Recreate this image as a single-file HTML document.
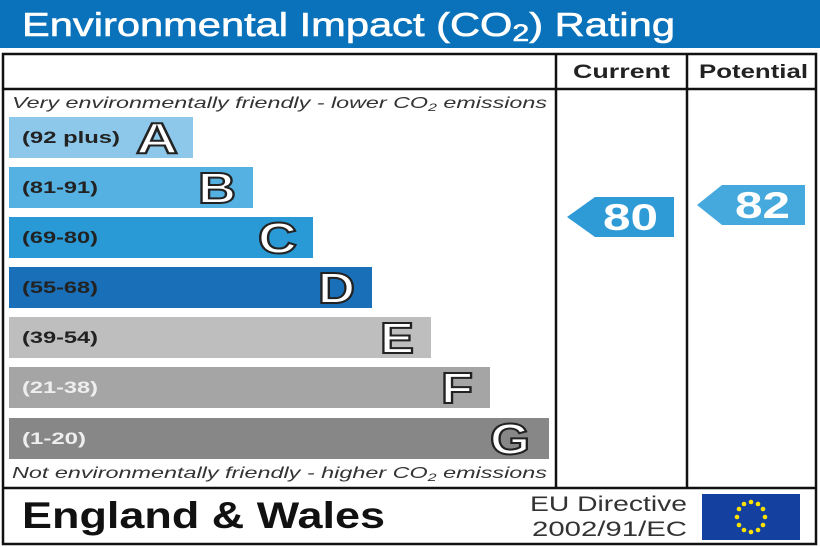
<!DOCTYPE html>
<html><head><meta charset="utf-8"><style>
html,body{margin:0;padding:0;background:#fff;}
svg{display:block;}
text{font-family:"Liberation Sans",Arial,sans-serif;}
</style></head><body>
<svg width="820" height="547" viewBox="0 0 820 547" xmlns="http://www.w3.org/2000/svg">
<rect x="0" y="0" width="820" height="48" fill="#0a72ba"/>
<text x="22" y="36" font-size="33" fill="#fff" stroke="#fff" stroke-width="0.6" textLength="653" lengthAdjust="spacingAndGlyphs">Environmental Impact (CO<tspan font-size="24" dy="5">2</tspan><tspan dy="-5">) Rating</tspan></text>
<rect x="3" y="54" width="813" height="490" fill="none" stroke="#111" stroke-width="2.5"/>
<line x1="3" y1="89" x2="816" y2="89" stroke="#111" stroke-width="2.5"/>
<line x1="556" y1="54" x2="556" y2="488" stroke="#111" stroke-width="2.5"/>
<line x1="687" y1="54" x2="687" y2="488" stroke="#111" stroke-width="2.5"/>
<line x1="3" y1="488" x2="816" y2="488" stroke="#111" stroke-width="2.5"/>
<text x="573" y="78" font-size="19" font-weight="bold" fill="#222" textLength="97" lengthAdjust="spacingAndGlyphs">Current</text>
<text x="699" y="78" font-size="19" font-weight="bold" fill="#222" textLength="109" lengthAdjust="spacingAndGlyphs">Potential</text>
<text x="12" y="108" font-size="16" font-style="italic" fill="#333" textLength="535" lengthAdjust="spacingAndGlyphs">Very environmentally friendly - lower CO<tspan font-size="11" dy="3">2</tspan><tspan dy="-3"> emissions</tspan></text>
<text x="12" y="478" font-size="16" font-style="italic" fill="#333" textLength="535" lengthAdjust="spacingAndGlyphs">Not environmentally friendly - higher CO<tspan font-size="11" dy="3">2</tspan><tspan dy="-3"> emissions</tspan></text>
<g font-weight="bold">
<rect x="9" y="117" width="184" height="41" fill="#8dc8ea"/>
<text x="22" y="143" font-size="17" fill="#222" textLength="98" lengthAdjust="spacingAndGlyphs">(92 plus)</text>
<text x="136" y="153" font-size="44" fill="#fff" stroke="#222" stroke-width="2" textLength="42" lengthAdjust="spacingAndGlyphs">A</text>
<rect x="9" y="167" width="244" height="41" fill="#55b1e2"/>
<text x="22" y="193" font-size="17" fill="#222" textLength="76" lengthAdjust="spacingAndGlyphs">(81-91)</text>
<text x="198" y="203" font-size="44" fill="#fff" stroke="#222" stroke-width="2" textLength="38" lengthAdjust="spacingAndGlyphs">B</text>
<rect x="9" y="217" width="304" height="41" fill="#2a9ad7"/>
<text x="22" y="243" font-size="17" fill="#222" textLength="76" lengthAdjust="spacingAndGlyphs">(69-80)</text>
<text x="258" y="253" font-size="44" fill="#fff" stroke="#222" stroke-width="2" textLength="39" lengthAdjust="spacingAndGlyphs">C</text>
<rect x="9" y="267" width="363" height="41" fill="#1a70b8"/>
<text x="22" y="293" font-size="17" fill="#222" textLength="76" lengthAdjust="spacingAndGlyphs">(55-68)</text>
<text x="318" y="303" font-size="44" fill="#fff" stroke="#222" stroke-width="2" textLength="37" lengthAdjust="spacingAndGlyphs">D</text>
<rect x="9" y="317" width="422" height="41" fill="#bebebe"/>
<text x="22" y="343" font-size="17" fill="#222" textLength="76" lengthAdjust="spacingAndGlyphs">(39-54)</text>
<text x="380" y="353" font-size="44" fill="#fff" stroke="#222" stroke-width="2" textLength="34" lengthAdjust="spacingAndGlyphs">E</text>
<rect x="9" y="367" width="481" height="41" fill="#a5a5a5"/>
<text x="22" y="393" font-size="17" fill="#eee" textLength="76" lengthAdjust="spacingAndGlyphs">(21-38)</text>
<text x="441" y="403" font-size="44" fill="#fff" stroke="#222" stroke-width="2" textLength="32" lengthAdjust="spacingAndGlyphs">F</text>
<rect x="9" y="418" width="540" height="41" fill="#878787"/>
<text x="22" y="444" font-size="17" fill="#eee" textLength="64" lengthAdjust="spacingAndGlyphs">(1-20)</text>
<text x="490" y="454" font-size="44" fill="#fff" stroke="#222" stroke-width="2" textLength="40" lengthAdjust="spacingAndGlyphs">G</text>
</g>
<polygon points="567,217 595,197 674,197 674,237 595,237" fill="#2e9ad6"/>
<text x="603" y="230" font-size="37" font-weight="bold" fill="#fff" textLength="55" lengthAdjust="spacingAndGlyphs">80</text>
<polygon points="697,205 722,185 805,185 805,225 722,225" fill="#45a9de"/>
<text x="735" y="218" font-size="37" font-weight="bold" fill="#fff" textLength="55" lengthAdjust="spacingAndGlyphs">82</text>
<text x="22" y="528" font-size="37" font-weight="bold" fill="#111" textLength="363" lengthAdjust="spacingAndGlyphs">England &amp; Wales</text>
<text x="530" y="511" font-size="21" fill="#333" textLength="157" lengthAdjust="spacingAndGlyphs">EU Directive</text>
<text x="532" y="536" font-size="21" fill="#333" textLength="155" lengthAdjust="spacingAndGlyphs">2002/91/EC</text>
<rect x="702" y="494" width="98" height="46" fill="#1440a0"/>
<g fill="#ffe400">
<circle cx="751" cy="502" r="2.3"/><circle cx="758" cy="504" r="2.3"/><circle cx="763" cy="509" r="2.3"/>
<circle cx="765" cy="517" r="2.3"/><circle cx="763" cy="525" r="2.3"/><circle cx="758" cy="530" r="2.3"/>
<circle cx="751" cy="532" r="2.3"/><circle cx="744" cy="530" r="2.3"/><circle cx="739" cy="525" r="2.3"/>
<circle cx="737" cy="517" r="2.3"/><circle cx="739" cy="509" r="2.3"/><circle cx="744" cy="504" r="2.3"/>
</g>
</svg>
</body></html>
